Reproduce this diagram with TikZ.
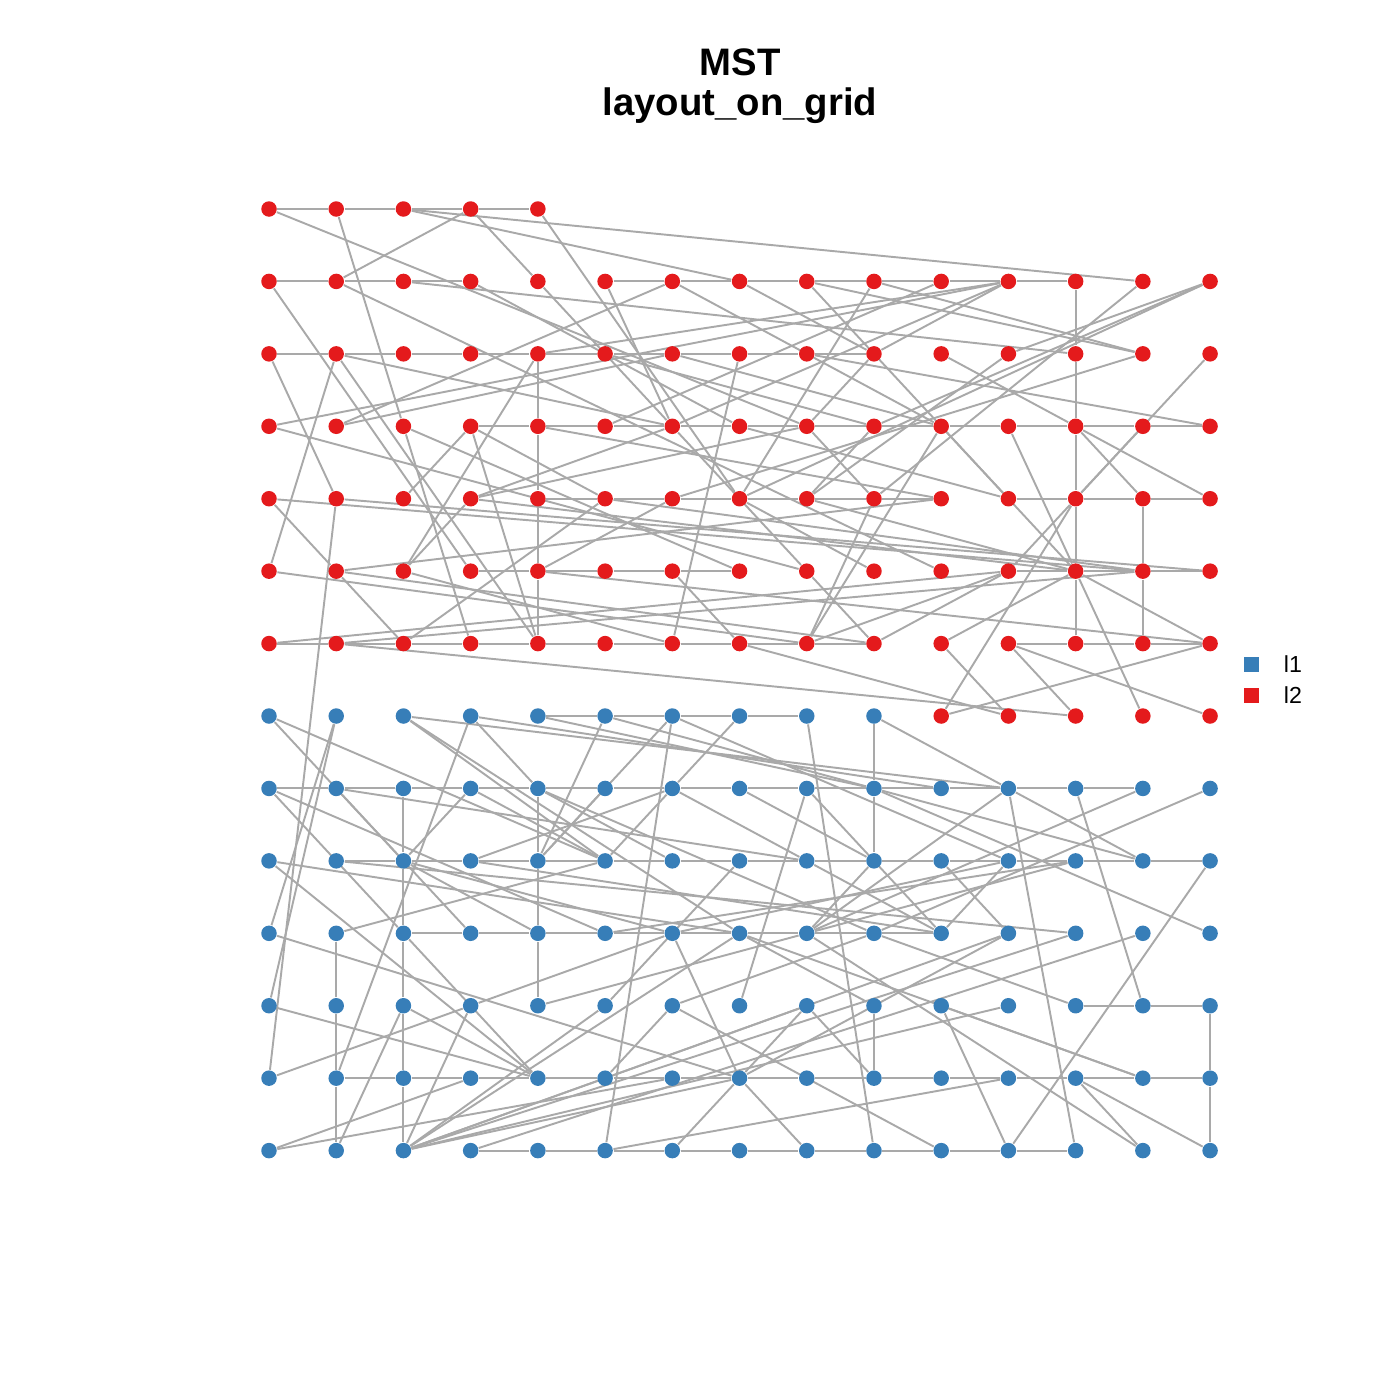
\documentclass[tikz,border=0pt]{standalone}
\usepackage{fontspec}
\setmainfont{Liberation Sans}
\usetikzlibrary{positioning,backgrounds}
\definecolor{lone}{HTML}{377EB8}
\definecolor{ltwo}{HTML}{E41A1C}
\definecolor{edgegray}{HTML}{A9A9A9}

\begin{document}
\begin{tikzpicture}[
    dot/.style={circle, inner sep=0pt, minimum size=0.155cm},
    red dot/.style={dot, fill=ltwo},
    blue dot/.style={dot, fill=lone},
    link/.style={draw=edgegray, line width=0.55pt},
    key/.style={inner sep=0pt, minimum size=0.15cm},
    titletext/.style={font=\bfseries\fontsize{10.9}{13}\selectfont, anchor=base}]
  \useasboundingbox (0,0) rectangle (14,-14);

  % title
  \node[titletext] (title) at (7.40,-0.76) {MST};
  \node[titletext] (subtitle) at (7.40,-1.15) {layout\_on\_grid};

  % layer l2 (red)
  \foreach \c in {0,...,4}
    \node[red dot] (n0-\c) at ({2.69+0.6722*\c},-2.09) {};
  \foreach \r in {1,...,6}
    \foreach \c in {0,...,14}
      \node[red dot] (n\r-\c) at ({2.69+0.6722*\c},{-2.09-0.7243*\r}) {};
  \foreach \c in {10,...,14}
    \node[red dot] (n7-\c) at ({2.69+0.6722*\c},{-2.09-0.7243*7}) {};

  % layer l1 (blue)
  \foreach \c in {0,...,9}
    \node[blue dot] (n7-\c) at ({2.69+0.6722*\c},{-2.09-0.7243*7}) {};
  \foreach \r in {8,...,13}
    \foreach \c in {0,...,14}
      \node[blue dot] (n\r-\c) at ({2.69+0.6722*\c},{-2.09-0.7243*\r}) {};

  \begin{scope}[on background layer]
    % runs along a row
    \foreach \r/\a/\b in {0/0/3, 1/0/2, 1/5/11, 2/0/8, 3/3/13, 4/4/9, 4/11/13,
        5/3/6, 5/11/13, 6/0/8, 6/11/13, 7/4/7, 8/0/12, 9/1/13, 10/2/9,
        11/12/13, 12/1/13, 13/3/11}
      \foreach \c in {\a,...,\b} {
        \pgfmathtruncatemacro\d{\c+1}
        \draw[link] (n\r-\c) -- (n\r-\d);
      }
    % runs down a column
    \foreach \c/\a/\b in {12/1/5, 13/4/5, 4/2/5, 9/7/8, 2/8/12, 1/10/12,
        4/8/10, 9/11/11, 14/11/12}
      \foreach \r in {\a,...,\b} {
        \pgfmathtruncatemacro\s{\r+1}
        \draw[link] (n\r-\c) -- (n\s-\c);
      }
    % red links
    \foreach \a/\b in {n0-0/n3-8, n0-1/n3-2, n0-2/n1-13, n0-2/n1-7, n0-3/n1-1,
        n0-3/n1-4, n0-4/n4-7,
        n1-0/n5-3, n1-1/n5-10, n1-2/n2-12, n1-3/n3-7, n1-4/n3-6, n1-5/n3-6,
        n1-6/n3-1, n1-6/n3-10, n1-7/n2-9, n1-8/n4-11, n1-8/n2-13, n1-9/n2-13,
        n1-9/n4-7, n1-13/n4-9, n1-14/n2-11, n1-14/n4-7,
        n2-0/n4-1, n2-1/n5-0, n2-1/n6-4, n2-1/n3-6, n2-4/n5-2, n2-4/n1-11,
        n2-5/n3-9, n2-6/n3-10, n2-7/n6-6, n2-8/n3-14, n2-9/n1-11, n2-9/n3-8,
        n2-10/n3-12, n2-11/n4-8, n2-14/n4-12, n2-13/n4-6,
        n3-0/n5-8, n3-0/n1-11, n3-1/n2-6, n3-2/n5-7, n3-2/n6-3, n3-3/n4-2,
        n3-3/n4-5, n3-3/n6-4, n3-4/n4-10, n3-5/n1-10, n3-6/n1-11, n3-6/n5-8,
        n3-7/n4-11, n3-8/n4-9, n3-9/n4-8, n3-9/n1-14, n3-10/n5-12, n3-11/n5-12,
        n3-12/n4-13, n3-12/n4-14, n3-13/n4-12,
        n4-0/n5-13, n4-0/n5-1, n4-1/n12-0, n4-1/n5-14, n4-3/n3-6, n4-3/n3-8,
        n4-3/n5-2, n4-3/n5-12, n4-5/n6-2, n4-5/n5-13, n4-6/n5-4, n4-7/n5-9,
        n4-8/n5-12, n4-9/n6-8, n4-12/n5-11, n4-12/n7-10,
        n5-0/n6-8, n5-1/n4-10, n5-1/n6-9, n5-1/n6-2, n5-2/n6-6, n5-4/n6-14,
        n5-6/n6-7, n5-8/n6-9, n5-12/n7-13, n5-12/n6-14,
        n6-0/n5-11, n6-1/n5-13, n6-1/n7-12, n6-8/n5-11, n6-8/n3-10, n6-9/n5-11,
        n6-10/n5-12, n6-14/n7-10, n6-11/n7-14, n6-11/n7-12, n6-10/n7-11,
        n6-7/n7-11}
      \draw[link] (\a) -- (\b);
    % blue links
    \foreach \a/\b in {n7-0/n9-5, n7-0/n9-2, n7-1/n10-0, n7-1/n11-0, n7-2/n8-11,
        n7-2/n9-5, n7-2/n10-7, n7-3/n8-4, n7-3/n12-1, n7-3/n8-10, n7-4/n8-9,
        n7-5/n8-9, n7-5/n9-4, n7-6/n13-5, n7-6/n9-11, n7-6/n9-4, n7-7/n8-6,
        n7-8/n13-9, n7-9/n8-11,
        n8-0/n10-5, n8-0/n10-2, n8-1/n10-3, n8-1/n9-8, n8-3/n9-2, n8-3/n9-5,
        n8-4/n9-6, n8-4/n10-9, n8-5/n9-4, n8-6/n9-3, n8-6/n9-5, n8-6/n9-8,
        n8-7/n9-9, n8-8/n11-7, n8-8/n10-10, n8-9/n9-13, n8-9/n10-14,
        n8-11/n9-13, n8-11/n13-12, n8-11/n10-8, n8-12/n11-13, n8-13/n10-8,
        n8-14/n10-9,
        n9-0/n10-7, n9-0/n12-4, n9-1/n10-12, n9-2/n10-4, n9-2/n10-6,
        n9-3/n10-10, n9-7/n11-5, n9-8/n10-10, n9-9/n10-8, n9-10/n10-11,
        n9-14/n13-11,
        n10-0/n12-7, n10-1/n9-5, n10-2/n12-4, n10-5/n9-12, n10-6/n9-11,
        n10-6/n12-7, n10-7/n11-9, n10-7/n12-13, n10-8/n9-12, n10-8/n13-13,
        n10-9/n11-12, n10-10/n9-11,
        n11-0/n12-4, n11-2/n12-4, n11-3/n10-6, n11-3/n13-2, n11-4/n10-8,
        n11-6/n10-9, n11-6/n13-10, n11-8/n12-9, n11-10/n12-13, n11-10/n13-11,
        n12-0/n11-3, n12-5/n11-6, n12-5/n11-8, n12-7/n10-11, n12-7/n11-8,
        n12-7/n13-6, n12-7/n13-8, n12-12/n13-13, n12-12/n13-14,
        n13-0/n12-3, n13-0/n12-6, n13-1/n11-2, n13-5/n12-11,
        n13-2/n10-11, n13-2/n10-12, n13-3/n10-13, n13-2/n11-11, n13-2/n12-7,
        n13-2/n11-5, n13-2/n10-7, n13-2/n12-5}
      \draw[link] (\a) -- (\b);
  \end{scope}

  % legend
  \node[key, fill=lone] (key1) at (12.51,-6.64) {};
  \node[key, fill=ltwo, below=0.15cm of key1] (key2) {};
  \node[right=0.24cm of key1, inner sep=0pt, font=\fontsize{6.6}{8}\selectfont] (lab1) {l1};
  \node[right=0.24cm of key2, inner sep=0pt, font=\fontsize{6.6}{8}\selectfont] (lab2) {l2};
\end{tikzpicture}
\end{document}
